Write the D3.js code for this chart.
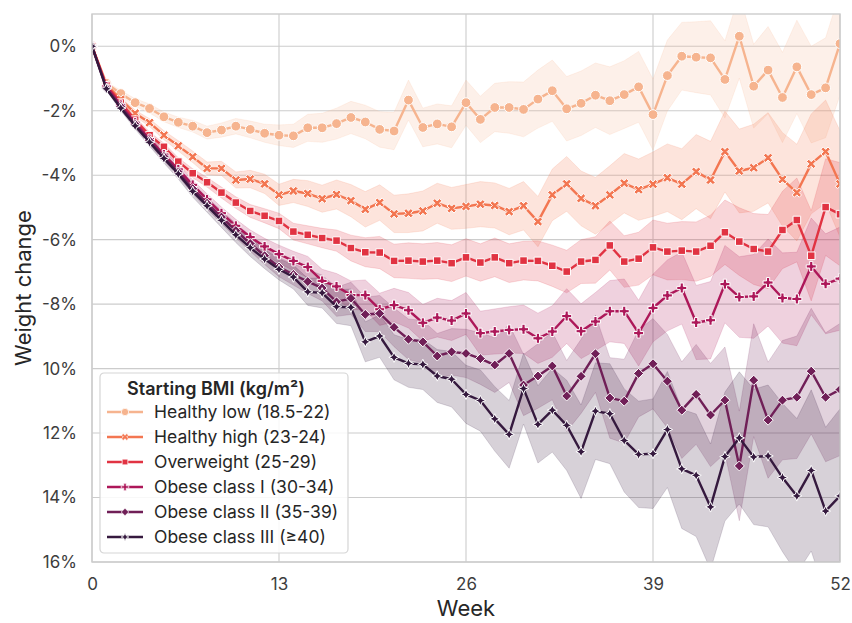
<!DOCTYPE html>
<html>
<head>
<meta charset="utf-8">
<script src="https://cdn.jsdelivr.net/npm/d3@7"></script>
<style>
  body { margin: 0; background: #fff; }
  svg { display: block; }
  text { font-family: Inter, "Noto Sans", "DejaVu Sans", sans-serif; }
</style>
</head>
<body>
<svg id="chart" width="852" height="623"></svg>
<script>
// Mean weight change (%) by week since start, grouped by starting BMI
const weeks = d3.range(0, 53);

const groups = [
  "Healthy low (18.5-22)",
  "Healthy high (23-24)",
  "Overweight (25-29)",
  "Obese class I (30-34)",
  "Obese class II (35-39)",
  "Obese class III (≥40)"
];

const healthyLow = [0, -1.15, -1.47, -1.75, -1.93, -2.19, -2.36, -2.48, -2.68, -2.60,
  -2.48, -2.58, -2.70, -2.76, -2.78, -2.53, -2.53, -2.40, -2.21, -2.35,
  -2.58, -2.63, -1.67, -2.52, -2.41, -2.50, -1.75, -2.27, -1.90, -1.90,
  -1.96, -1.64, -1.38, -1.94, -1.77, -1.52, -1.69, -1.50, -1.26, -2.12,
  -0.91, -0.31, -0.34, -0.36, -1.03, 0.31, -1.24, -0.74, -1.59, -0.64,
  -1.50, -1.29, 0.08];

const healthyHigh = [0, -1.20, -1.65, -2.08, -2.37, -2.76, -3.09, -3.43, -3.79, -3.79,
  -4.15, -4.12, -4.27, -4.61, -4.49, -4.57, -4.73, -4.60, -4.79, -5.06,
  -4.85, -5.20, -5.18, -5.11, -4.87, -5.03, -4.97, -4.90, -4.94, -5.13,
  -4.95, -5.44, -4.61, -4.27, -4.72, -4.95, -4.61, -4.25, -4.45, -4.28,
  -4.08, -4.28, -3.89, -4.15, -3.27, -3.87, -3.77, -3.46, -4.13, -4.54,
  -3.65, -3.27, -4.27];

const overweight = [0, -1.22, -1.75, -2.28, -2.76, -3.12, -3.58, -3.94, -4.22, -4.54,
  -4.85, -5.11, -5.26, -5.42, -5.75, -5.85, -5.95, -6.03, -6.26, -6.39,
  -6.40, -6.66, -6.65, -6.68, -6.65, -6.73, -6.55, -6.71, -6.55, -6.73,
  -6.65, -6.66, -6.81, -6.99, -6.68, -6.63, -6.18, -6.68, -6.59, -6.24,
  -6.37, -6.34, -6.37, -6.19, -5.77, -6.06, -6.29, -6.37, -5.70, -5.39,
  -6.50, -4.99, -5.21];

const obeseI = [0, -1.25, -1.82, -2.37, -2.88, -3.36, -3.82, -4.30, -4.75, -5.18,
  -5.57, -5.92, -6.21, -6.45, -6.66, -6.85, -7.28, -7.45, -7.72, -7.72,
  -8.16, -8.03, -8.19, -8.58, -8.42, -8.51, -8.29, -8.90, -8.85, -8.80,
  -8.78, -9.06, -8.85, -8.37, -8.84, -8.54, -8.22, -8.22, -8.90, -8.12,
  -7.73, -7.50, -8.57, -8.50, -7.38, -7.78, -7.76, -7.33, -7.81, -7.84,
  -6.83, -7.37, -7.21];

const obeseII = [0, -1.30, -1.87, -2.42, -2.93, -3.42, -3.90, -4.42, -4.87, -5.30,
  -5.72, -6.12, -6.50, -6.85, -7.08, -7.30, -7.50, -7.93, -7.82, -8.32,
  -8.29, -8.72, -9.09, -9.17, -9.61, -9.48, -9.53, -9.69, -9.89, -9.53,
  -10.51, -10.23, -9.92, -10.85, -10.24, -9.54, -10.91, -11.01, -10.15, -9.85,
  -10.39, -11.29, -10.80, -11.44, -10.98, -13.02, -10.36, -11.60, -10.98, -10.89,
  -10.08, -10.89, -10.65];

const obeseIII = [0, -1.32, -1.92, -2.47, -2.98, -3.48, -3.96, -4.50, -4.95, -5.40,
  -5.85, -6.25, -6.60, -6.92, -7.16, -7.62, -7.65, -8.08, -8.10, -9.17,
  -8.99, -9.65, -9.84, -9.87, -10.23, -10.33, -10.80, -10.99, -11.56, -12.04,
  -10.62, -11.73, -11.29, -11.76, -12.58, -11.32, -11.40, -12.23, -12.66, -12.64,
  -11.89, -13.11, -13.31, -14.29, -12.73, -12.15, -12.74, -12.71, -13.38, -13.95,
  -13.16, -14.42, -13.95];

// 95% confidence half-widths (percentage points)
const healthyLowCI = [0, 0.05, 0.10, 0.12, 0.14, 0.15, 0.16, 0.18, 0.20, 0.22,
  0.24, 0.26, 0.28, 0.32, 0.36, 0.42, 0.45, 0.48, 0.50, 0.52,
  0.55, 0.58, 0.62, 0.60, 0.62, 0.65, 0.70, 0.72, 0.75, 0.80,
  0.85, 0.90, 0.95, 1.00, 1.00, 1.00, 1.05, 1.05, 1.10, 1.10,
  1.10, 1.05, 1.10, 1.15, 1.20, 1.30, 1.30, 1.35, 1.40, 1.45,
  1.50, 1.55, 1.60];

const healthyHighCI = [0, 0.05, 0.08, 0.10, 0.12, 0.14, 0.16, 0.18, 0.20, 0.22,
  0.25, 0.27, 0.30, 0.33, 0.36, 0.40, 0.42, 0.45, 0.50, 0.55,
  0.55, 0.58, 0.60, 0.62, 0.62, 0.65, 0.68, 0.70, 0.70, 0.72,
  0.75, 0.78, 0.80, 0.85, 0.85, 0.88, 0.90, 0.92, 0.95, 1.00,
  1.05, 1.10, 1.15, 1.20, 1.25, 1.30, 1.35, 1.40, 1.45, 1.50,
  1.55, 1.60, 1.65];

const overweightCI = [0, 0.05, 0.07, 0.08, 0.10, 0.11, 0.12, 0.14, 0.15, 0.17,
  0.18, 0.20, 0.22, 0.24, 0.26, 0.28, 0.30, 0.33, 0.40, 0.45,
  0.50, 0.52, 0.55, 0.55, 0.56, 0.57, 0.58, 0.58, 0.60, 0.60,
  0.60, 0.62, 0.64, 0.66, 0.68, 0.72, 0.76, 0.80, 0.82, 0.85,
  0.88, 0.90, 0.92, 0.95, 1.00, 1.05, 1.10, 1.15, 1.20, 1.30,
  1.40, 1.50, 1.60];

const obeseICI = [0, 0.05, 0.08, 0.10, 0.12, 0.13, 0.14, 0.15, 0.17, 0.19,
  0.20, 0.22, 0.25, 0.28, 0.30, 0.33, 0.36, 0.40, 0.44, 0.47,
  0.50, 0.52, 0.55, 0.57, 0.60, 0.62, 0.65, 0.68, 0.70, 0.72,
  0.75, 0.78, 0.80, 0.85, 0.85, 0.90, 0.95, 1.00, 1.02, 1.05,
  1.10, 1.12, 1.15, 1.20, 1.20, 1.25, 1.30, 1.35, 1.40, 1.45,
  1.50, 1.55, 1.60];

const obeseIICI = [0, 0.05, 0.08, 0.10, 0.12, 0.13, 0.14, 0.16, 0.18, 0.20,
  0.22, 0.24, 0.27, 0.30, 0.33, 0.37, 0.40, 0.45, 0.50, 0.53,
  0.56, 0.60, 0.63, 0.66, 0.70, 0.72, 0.75, 0.80, 0.85, 0.90,
  0.95, 1.00, 1.05, 1.10, 1.15, 1.20, 1.25, 1.30, 1.35, 1.40,
  1.45, 1.50, 1.55, 1.60, 1.65, 1.70, 1.75, 1.80, 1.85, 1.90,
  1.95, 2.00, 2.05];

const obeseIIICI = [0, 0.05, 0.08, 0.10, 0.12, 0.14, 0.16, 0.18, 0.20, 0.22,
  0.24, 0.27, 0.30, 0.33, 0.37, 0.42, 0.47, 0.52, 0.57, 0.62,
  0.66, 0.70, 0.74, 0.78, 0.82, 0.86, 0.90, 0.95, 1.00, 1.05,
  1.10, 1.20, 1.30, 1.40, 1.45, 1.50, 1.55, 1.60, 1.65, 1.70,
  1.80, 1.85, 1.90, 1.95, 2.00, 2.05, 2.10, 2.20, 2.30, 2.40,
  2.50, 2.60, 2.70];

const colors = ["#f6b48f", "#f37651", "#e13342", "#ad1759", "#701f57", "#35193e"];
const markerKinds = ["circle", "x", "square", "plus", "diamond", "star4"];

const xTicks = [0, 13, 26, 39, 52];
const yTicks = [0, -2, -4, -6, -8, -10, -12, -14, -16];
const yTickLabels = ["0%", "-2%", "-4%", "-6%", "-8%", "10%", "12%", "14%", "16%"];

(function draw() {
  const means = [healthyLow, healthyHigh, overweight, obeseI, obeseII, obeseIII];
  const cis = [healthyLowCI, healthyHighCI, overweightCI, obeseICI, obeseIICI, obeseIIICI];

  const series = groups.map((name, i) => ({
    name, color: colors[i], marker: markerKinds[i],
    points: weeks.map((w, j) => ({ week: w, mean: means[i][j], lo: means[i][j] - cis[i][j], hi: means[i][j] + cis[i][j] }))
  }));

  // ---- layout ----
  const svg = d3.select("#chart");
  const pLeft = 92, pRight = 840, pTop = 14, pBottom = 562;
  const x = d3.scaleLinear().domain([0, 52]).range([pLeft, pRight]);
  const y = d3.scaleLinear().domain([-16, 1]).range([pBottom, pTop]);

  svg.append("defs").append("clipPath").attr("id", "plotClip")
    .append("rect").attr("x", pLeft).attr("y", pTop).attr("width", pRight - pLeft).attr("height", pBottom - pTop);

  // grid
  const grid = svg.append("g");
  grid.selectAll("line.h").data(yTicks).join("line").attr("class", "h")
    .attr("x1", pLeft).attr("x2", pRight).attr("y1", d => y(d)).attr("y2", d => y(d))
    .attr("stroke", "#cccccc").attr("stroke-width", 1.1);
  grid.selectAll("line.v").data(xTicks).join("line").attr("class", "v")
    .attr("y1", pTop).attr("y2", pBottom).attr("x1", d => x(d)).attr("x2", d => x(d))
    .attr("stroke", "#cccccc").attr("stroke-width", 1.1);

  // axes (labels only)
  const tickFont = 17;
  const yAxis = svg.append("g").attr("transform", `translate(${pLeft},0)`)
    .call(d3.axisLeft(y).tickValues(yTicks).tickFormat((d, i) => yTickLabels[i]).tickSize(0).tickPadding(15));
  const xAxis = svg.append("g").attr("transform", `translate(0,${pBottom})`)
    .call(d3.axisBottom(x).tickValues(xTicks).tickFormat(d => String(d)).tickSize(0).tickPadding(16));
  [yAxis, xAxis].forEach(a => {
    a.select(".domain").remove();
    a.selectAll("text").attr("fill", "#3d3d3d").style("font-size", tickFont + "px")
      .style("font-family", "Inter, 'Noto Sans', sans-serif");
  });

  svg.append("text").attr("x", (pLeft + pRight) / 2).attr("y", 616)
    .attr("text-anchor", "middle").attr("fill", "#262626").style("font-size", "22px").text("Week");
  svg.append("text").attr("transform", `translate(31,${(pTop + pBottom) / 2}) rotate(-90)`)
    .attr("text-anchor", "middle").attr("fill", "#262626").style("font-size", "22px").text("Weight change");

  // ---- bands and lines ----
  const plot = svg.append("g").attr("clip-path", "url(#plotClip)");

  const area = d3.area().x(d => x(d.week)).y0(d => y(d.lo)).y1(d => y(d.hi));
  const line = d3.line().x(d => x(d.week)).y(d => y(d.mean));

  plot.selectAll("path.band").data(series).join("path")
    .attr("class", "band")
    .attr("d", s => area(s.points))
    .attr("fill", s => s.color).attr("fill-opacity", 0.2)
    .attr("stroke", s => s.color).attr("stroke-opacity", 0.2).attr("stroke-width", 0.8);

  function markerPath(kind) {
    const p = d3.path();
    if (kind === "circle") {
      p.arc(0, 0, 4.9, 0, 2 * Math.PI);
    } else if (kind === "square") {
      p.rect(-3.8, -3.8, 7.6, 7.6);
    } else if (kind === "diamond") {
      const r = 5.0;
      p.moveTo(0, -r); p.lineTo(r, 0); p.lineTo(0, r); p.lineTo(-r, 0); p.closePath();
    } else if (kind === "star4") {
      const R = 5.2, r = 2.3;
      for (let k = 0; k < 8; k++) {
        const a = -Math.PI / 2 + k * Math.PI / 4;
        const rad = k % 2 === 0 ? R : r;
        const px = rad * Math.cos(a), py = rad * Math.sin(a);
        if (k === 0) p.moveTo(px, py); else p.lineTo(px, py);
      }
      p.closePath();
    } else {
      // plus or x: a filled cross, rotated for x
      const a = 5.0, t = 1.6;
      const pts = [[-t, -a], [t, -a], [t, -t], [a, -t], [a, t], [t, t], [t, a], [-t, a], [-t, t], [-a, t], [-a, -t], [-t, -t]];
      const rot = kind === "x" ? Math.PI / 4 : 0;
      pts.forEach(([px, py], k) => {
        const rx = px * Math.cos(rot) - py * Math.sin(rot);
        const ry = px * Math.sin(rot) + py * Math.cos(rot);
        if (k === 0) p.moveTo(rx, ry); else p.lineTo(rx, ry);
      });
      p.closePath();
    }
    return p.toString();
  }

  series.forEach(s => {
    const g = plot.append("g");
    g.append("path").attr("d", line(s.points))
      .attr("fill", "none").attr("stroke", s.color).attr("stroke-width", 2.4)
      .attr("stroke-linejoin", "round");
    const shape = markerPath(s.marker);
    g.selectAll("path.mk").data(s.points).join("path")
      .attr("class", "mk")
      .attr("transform", d => `translate(${x(d.week)},${y(d.mean)})`)
      .attr("d", shape)
      .attr("fill", s.color).attr("stroke", "#ffffff").attr("stroke-width", 1);
  });

  // frame
  svg.append("rect").attr("x", pLeft).attr("y", pTop).attr("width", pRight - pLeft).attr("height", pBottom - pTop)
    .attr("fill", "none").attr("stroke", "#cccccc").attr("stroke-width", 1.4);

  // ---- legend ----
  const lg = svg.append("g").attr("transform", "translate(100,373)");
  lg.append("rect").attr("width", 248).attr("height", 180).attr("rx", 4)
    .attr("fill", "#ffffff").attr("fill-opacity", 0.85).attr("stroke", "#d5d5d5").attr("stroke-width", 1.2);
  lg.append("text").attr("x", 116).attr("y", 22).attr("text-anchor", "middle")
    .attr("fill", "#262626").style("font-size", "18px").style("font-weight", 600)
    .text("Starting BMI (kg/m²)");
  const rows = lg.selectAll("g.row").data(series).join("g")
    .attr("class", "row").attr("transform", (d, i) => `translate(0,${39 + i * 25})`);
  rows.append("line").attr("x1", 7).attr("x2", 43).attr("y1", 0).attr("y2", 0)
    .attr("stroke", d => d.color).attr("stroke-width", 2.4);
  rows.append("path").attr("transform", "translate(25,0) scale(0.75)")
    .attr("d", d => markerPath(d.marker))
    .attr("fill", d => d.color).attr("stroke", "#ffffff").attr("stroke-width", 1);
  rows.append("text").attr("x", 54).attr("y", 6)
    .attr("fill", "#262626").style("font-size", "17.5px").text(d => d.name);
})();
</script>
</body>
</html>
